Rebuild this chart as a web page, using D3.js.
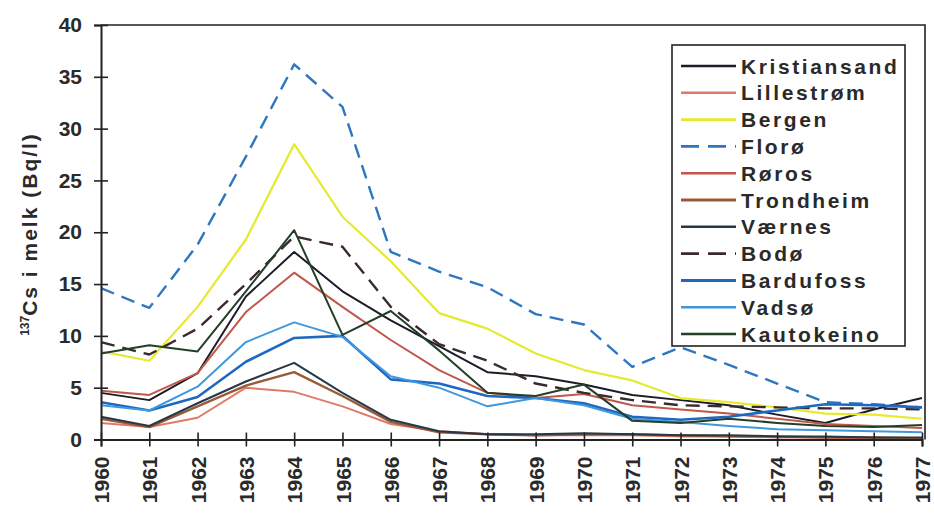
<!DOCTYPE html>
<html>
<head>
<meta charset="utf-8">
<script src="https://cdn.jsdelivr.net/npm/d3@7"></script>
<style>
  body { margin: 0; background: #fff; }
  svg { display: block; font-family: "Liberation Sans", Arial, sans-serif; font-weight: bold; }
</style>
</head>
<body>
<div id="chart"></div>
<script>
let width = 934, height = 513;

// years on the x axis
let years = [1960,1961,1962,1963,1964,1965,1966,1967,1968,1969,1970,1971,1972,1973,1974,1975,1976,1977];
let yTicks = [0,5,10,15,20,25,30,35,40];

// 137Cs in milk (Bq/l)
let kristiansand = [4.5,3.8,6.4,13.8,18.1,14.3,11.5,9.0,6.5,6.1,5.3,4.3,3.8,3.3,2.4,1.6,2.9,4.0];
let lillestrom   = [1.6,1.2,2.1,5.0,4.6,3.2,1.5,0.8,0.5,0.4,0.4,0.4,0.3,0.3,0.2,0.2,0.1,0.1];
let bergen       = [8.5,7.6,12.8,19.3,28.5,21.5,17.2,12.2,10.7,8.3,6.7,5.7,4.0,3.6,3.1,2.5,2.4,2.0];
let floro        = [14.6,12.7,18.8,27.3,36.2,32.1,18.1,16.2,14.7,12.1,11.1,7.0,8.9,7.2,5.4,3.6,3.4,3.1];
let roros        = [4.7,4.3,6.4,12.3,16.1,12.8,9.6,6.7,4.5,4.0,4.4,3.3,2.9,2.5,2.0,1.5,1.3,1.1];
let trondheim    = [2.0,1.2,3.2,5.2,6.5,4.2,1.7,0.7,0.5,0.4,0.5,0.5,0.4,0.3,0.3,0.2,0.2,0.1];
let varnes       = [2.2,1.3,3.5,5.6,7.4,4.5,1.9,0.8,0.5,0.5,0.6,0.5,0.4,0.4,0.3,0.3,0.2,0.2];
let bodo         = [9.4,8.2,10.7,15.0,19.6,18.6,12.8,9.2,7.6,5.4,4.5,3.8,3.3,3.2,3.1,3.0,3.0,2.9];
let bardufoss    = [3.6,2.8,4.1,7.5,9.8,10.0,5.8,5.4,4.2,4.0,3.5,2.2,1.9,2.2,2.8,3.4,3.3,3.1];
let vadso        = [3.3,2.8,5.1,9.4,11.3,9.9,6.1,5.0,3.2,4.0,3.3,2.0,1.7,1.3,1.0,0.9,0.8,0.7];
let kautokeino   = [8.3,9.1,8.5,14.3,20.2,10.1,12.4,8.6,4.5,4.2,5.3,1.8,1.6,2.0,1.6,1.3,1.2,1.4];

let series = [
  {name: "Kristiansand", values: kristiansand, color: "#1c1c28", w: 2, dash: null},
  {name: "Lillestrøm",   values: lillestrom,   color: "#e07a68", w: 2, dash: null},
  {name: "Bergen",       values: bergen,       color: "#e6ea2e", w: 2.2, dash: null},
  {name: "Florø",        values: floro,        color: "#2f76c2", w: 2.4, dash: "14,8"},
  {name: "Røros",        values: roros,        color: "#c0574a", w: 2, dash: null},
  {name: "Trondheim",    values: trondheim,    color: "#9a5a38", w: 2.4, dash: null},
  {name: "Værnes",       values: varnes,       color: "#263848", w: 2, dash: null},
  {name: "Bodø",         values: bodo,         color: "#3a2a30", w: 2.4, dash: "14,8"},
  {name: "Bardufoss",    values: bardufoss,    color: "#1e68c0", w: 2.6, dash: null},
  {name: "Vadsø",        values: vadso,        color: "#3d98e0", w: 2, dash: null},
  {name: "Kautokeino",   values: kautokeino,   color: "#233f28", w: 2, dash: null}
];

let svg = d3.select("#chart").append("svg")
    .attr("width", width)
    .attr("height", height);

let x = d3.scaleLinear().domain([1960, 1977]).range([101, 922]);
let y = d3.scaleLinear().domain([0, 40]).range([439.5, 25]);

// frame top and right
svg.append("path")
    .attr("d", "M" + x(1960) + "," + y(40) + "H" + (x(1977) + 3) + "V" + y(0))
    .attr("fill", "none")
    .attr("stroke", "#222")
    .attr("stroke-width", 1.6);

// lines
let line = d3.line()
    .x(function(d, i) { return x(years[i]); })
    .y(function(d) { return y(d); });

svg.append("g").selectAll("path")
    .data(series)
    .enter().append("path")
    .attr("d", function(d) { return line(d.values); })
    .attr("fill", "none")
    .attr("stroke", function(d) { return d.color; })
    .attr("stroke-width", function(d) { return d.w; })
    .attr("stroke-dasharray", function(d) { return d.dash; })
    .attr("stroke-linejoin", "round");

// y axis
let yAxis = svg.append("g")
    .attr("transform", "translate(" + x(1960) + ",0)")
    .call(d3.axisLeft(y).tickValues(yTicks).tickSize(7).tickPadding(12));
yAxis.select(".domain").attr("stroke", "#222").attr("stroke-width", 2);
yAxis.selectAll(".tick line").attr("x1", 7).attr("stroke", "#222").attr("stroke-width", 1.6);
yAxis.selectAll(".tick text")
    .style("font-size", "21px")
    .style("font-weight", "bold")
    .style("font-family", "Liberation Sans, Arial, sans-serif")
    .attr("fill", "#2a2a2a");

// x axis
let xAxis = svg.append("g")
    .attr("transform", "translate(0," + y(0) + ")")
    .call(d3.axisBottom(x).tickValues(years).tickFormat(d3.format("d")).tickSize(7).tickPadding(0));
xAxis.select(".domain").attr("stroke", "#222").attr("stroke-width", 2);
xAxis.selectAll(".tick line").attr("y1", -7).attr("stroke", "#222").attr("stroke-width", 1.6);
xAxis.selectAll(".tick text")
    .attr("transform", "rotate(-90)")
    .attr("x", -17)
    .attr("y", 0)
    .attr("dy", "0.36em")
    .style("text-anchor", "end")
    .style("font-size", "21px")
    .style("font-weight", "bold")
    .style("font-family", "Liberation Sans, Arial, sans-serif")
    .attr("fill", "#2a2a2a");

// y axis title
let title = svg.append("text")
    .attr("transform", "translate(37,234) rotate(-90)")
    .attr("text-anchor", "middle")
    .style("font-size", "21px")
    .style("letter-spacing", "2px")
    .attr("fill", "#2a2a2a");
title.append("tspan").text("137").style("font-size", "12px").style("letter-spacing", "0px").attr("dy", "-8");
title.append("tspan").text("Cs i melk (Bq/l)").attr("dy", "8");

// legend
let legend = svg.append("g");
legend.append("rect")
    .attr("x", 672).attr("y", 45)
    .attr("width", 233).attr("height", 301)
    .attr("fill", "#fff")
    .attr("stroke", "#222")
    .attr("stroke-width", 1.6);

let item = legend.selectAll(".item")
    .data(series)
    .enter().append("g")
    .attr("class", "item")
    .attr("transform", function(d, i) { return "translate(0," + (66 + i * 26.8) + ")"; });

item.append("line")
    .attr("x1", 681).attr("x2", 736)
    .attr("y1", 0).attr("y2", 0)
    .attr("stroke", function(d) { return d.color; })
    .attr("stroke-width", function(d) { return d.w + 0.4; })
    .attr("stroke-dasharray", function(d) { return d.dash ? "18,9" : null; });

item.append("text")
    .attr("x", 741)
    .attr("dy", "0.36em")
    .text(function(d) { return d.name; })
    .style("font-size", "21px")
    .style("letter-spacing", "2.6px")
    .attr("fill", "#2a2a2a");
</script>
</body>
</html>
